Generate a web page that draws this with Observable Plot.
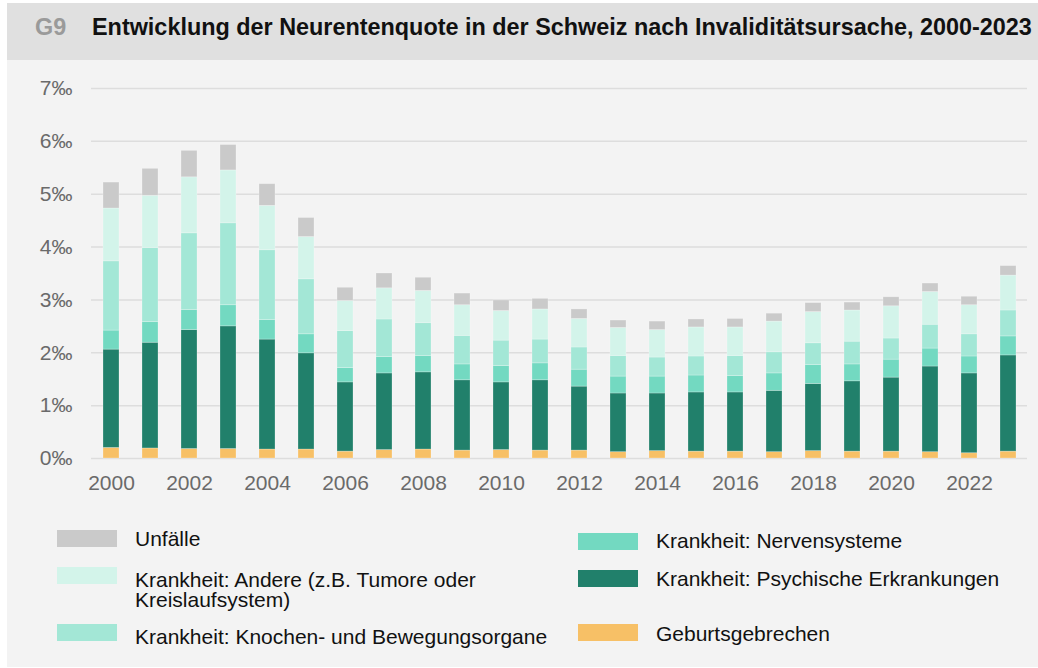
<!DOCTYPE html>
<html><head><meta charset="utf-8">
<script src="https://cdn.jsdelivr.net/npm/d3@7"></script>
<script src="https://cdn.jsdelivr.net/npm/@observablehq/plot@0.6"></script>
<style>
body{margin:0;width:1038px;height:668px;background:#fff;font-family:"Liberation Sans",Arial,sans-serif;position:relative;overflow:hidden;}
#card{position:absolute;left:7px;top:3px;width:1031px;height:664px;background:#f3f3f3;}
#head{position:absolute;left:7px;top:3px;width:1031px;height:57px;background:#e0e0e0;}
.t{position:absolute;white-space:nowrap;font-weight:bold;font-size:23.4px;line-height:24px;}
#chart{position:absolute;left:0;top:60px;}
.sw{position:absolute;width:60px;height:17px;}
.lt{position:absolute;font-size:21px;line-height:20.7px;color:#111;white-space:nowrap;}
</style></head>
<body>
<div id="card"></div>
<div id="head"></div>
<div class="t" style="left:35px;top:14.5px;color:#9a9a9a;">G9</div>
<div class="t" style="left:92px;top:14.5px;color:#111;">Entwicklung der Neurentenquote in der Schweiz nach Invaliditätsursache, 2000-2023</div>
<div id="chart"></div>
<div id="legend"></div>
<script>
const years = [2000,2001,2002,2003,2004,2005,2006,2007,2008,2009,2010,2011,2012,2013,2014,2015,2016,2017,2018,2019,2020,2021,2022,2023];
const xTicks = [2000,2002,2004,2006,2008,2010,2012,2014,2016,2018,2020,2022];
const yTicks = [0,1,2,3,4,5,6,7];
const geburt   = [0.20,0.19,0.18,0.18,0.17,0.17,0.13,0.16,0.17,0.15,0.16,0.15,0.15,0.12,0.14,0.13,0.13,0.12,0.14,0.13,0.13,0.12,0.10,0.13];
const psych    = [1.86,2.00,2.25,2.32,2.08,1.82,1.31,1.45,1.46,1.33,1.28,1.33,1.21,1.11,1.09,1.12,1.12,1.16,1.27,1.33,1.40,1.62,1.51,1.82];
const nerven   = [0.36,0.39,0.38,0.40,0.37,0.36,0.27,0.31,0.31,0.30,0.31,0.32,0.32,0.32,0.32,0.32,0.31,0.33,0.36,0.32,0.34,0.34,0.32,0.36];
const knochen  = [1.31,1.40,1.45,1.55,1.32,1.04,0.70,0.71,0.62,0.54,0.48,0.45,0.42,0.39,0.36,0.36,0.38,0.40,0.41,0.43,0.40,0.45,0.42,0.49];
const andere   = [1.00,0.99,1.06,1.00,0.84,0.80,0.57,0.59,0.61,0.58,0.56,0.57,0.54,0.53,0.52,0.55,0.54,0.58,0.59,0.59,0.61,0.62,0.55,0.66];
const unfaelle = [0.49,0.51,0.50,0.48,0.41,0.36,0.25,0.28,0.25,0.22,0.20,0.20,0.18,0.14,0.16,0.15,0.16,0.15,0.17,0.15,0.17,0.16,0.16,0.18];
const causes = ["Geburtsgebrechen","Krankheit: Psychische Erkrankungen","Krankheit: Nervensysteme","Krankheit: Knochen- und Bewegungsorgane","Krankheit: Andere (z.B. Tumore oder Kreislaufsystem)","Unfälle"];
const colors = ["#f7c066","#21806b","#73d9c1","#a3e7d6","#d3f4ea","#cacaca"];
const series = [geburt, psych, nerven, knochen, andere, unfaelle];

const table = [];
years.forEach((y, i) => series.forEach((s, k) => table.push({year: y, cause: causes[k], value: s[i]})));

const chart = Plot.plot({
  width: 1038, height: 440,
  marginLeft: 91, marginRight: 11, marginTop: 28, marginBottom: 42,
  style: {background: "transparent", fontFamily: "'Liberation Sans', Arial, sans-serif", fontSize: "21px", color: "#6a6a6a"},
  x: {type: "band", domain: years, paddingInner: 0.59, paddingOuter: 0.295, align: 0.5, label: null, ticks: xTicks, tickFormat: d => String(d), tickSize: 0, tickPadding: 17},
  y: {domain: [0, 7], ticks: yTicks, tickFormat: d => d + "‰", label: null, tickSize: 0, tickPadding: 19},
  color: {domain: causes, range: colors},
  marks: [
    Plot.ruleY(yTicks, {stroke: "#dddddd", strokeWidth: 1.5}),
    Plot.barY(table, {x: "year", y: "value", fill: "cause", order: causes, stroke: "#ffffff", strokeOpacity: 0.3, strokeWidth: 0.8})
  ]
});
document.getElementById("chart").appendChild(chart);

// legend
const legendItems = [
  {k: 5, sx: 57, sy: 530, tx: 135, ty: 529, lines: ["Unfälle"]},
  {k: 4, sx: 57, sy: 567, tx: 135, ty: 569.5, lines: ["Krankheit: Andere (z.B. Tumore oder", "Kreislaufsystem)"]},
  {k: 3, sx: 57, sy: 624, tx: 135, ty: 627, lines: ["Krankheit: Knochen- und Bewegungsorgane"]},
  {k: 2, sx: 578, sy: 533, tx: 656, ty: 531, lines: ["Krankheit: Nervensysteme"]},
  {k: 1, sx: 578, sy: 570, tx: 656, ty: 569, lines: ["Krankheit: Psychische Erkrankungen"]},
  {k: 0, sx: 578, sy: 624, tx: 656, ty: 624, lines: ["Geburtsgebrechen"]}
];
const lg = document.getElementById("legend");
legendItems.forEach(it => {
  const sw = document.createElement("div");
  sw.className = "sw";
  sw.style.left = it.sx + "px"; sw.style.top = it.sy + "px"; sw.style.background = colors[it.k];
  lg.appendChild(sw);
  const t = document.createElement("div");
  t.className = "lt";
  t.style.left = it.tx + "px"; t.style.top = it.ty + "px";
  t.innerHTML = it.lines.join("<br>");
  lg.appendChild(t);
});
</script>
</body></html>
